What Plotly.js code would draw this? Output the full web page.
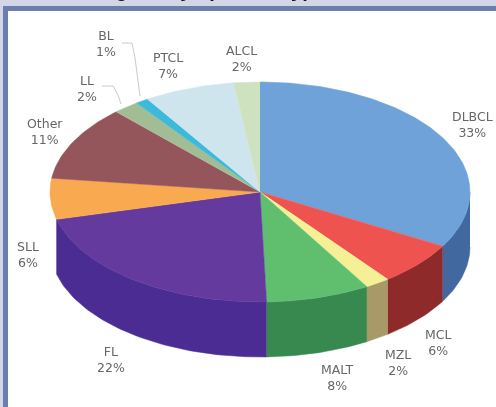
<!DOCTYPE html>
<html><head><meta charset="utf-8">
<script src="https://cdn.plot.ly/plotly-3.0.1.min.js"></script>
<style>html,body{margin:0;padding:0;background:#fff;overflow:hidden}#c{width:496px;height:407px;filter:blur(0.7px)}</style>
</head><body><div id="c"></div>
<script>
const categories=["DLBCL","MCL","MZL","MALT","FL","SLL","Other","LL","BL","PTCL","ALCL"];
const shares=[33.2,6.4,1.9,8,21.5,6,11,2,1,7,2];
const topColors=["#6fa2d8","#ef5350","#f5ef96","#5fbf6f","#653a9e","#f9a94f","#94565a","#a2bd94","#3dbadb","#cfe5ee","#cfe2c0"];
const sideColors=["#41699f","#8e2a2a","#a89a68","#37894f","#4b2c92","#4b2c92","#74403f","#7f9a76","#2a98b8","#a8c4cf","#a8c09a"];
const labelX=[472,438,398,337,111,28,45,87,106,168,241];
const labelY=[124,342,362,377,359,254,131,88,43,65,58];
const titleText="Percentage of Lymphoma Type";

const cx=260,cy=192,rx=210,ry=110,depth=55;
const traces=[];
const pt=(a,dz)=>[cx+rx*Math.sin(a),cy-ry*Math.cos(a)+dz];
function arc(a0,a1,dz){const n=Math.max(2,Math.ceil(Math.abs(a1-a0)/0.02));const out=[];for(let i=0;i<=n;i++){out.push(pt(a0+(a1-a0)*i/n,dz));}return out;}
function poly(points,color){traces.push({type:"scatter",mode:"lines",x:points.map(p=>p[0]),y:points.map(p=>p[1]),fill:"toself",fillcolor:color,line:{color:color,width:0.5},hoverinfo:"skip",showlegend:false});}
let cum=0;const spans=shares.map(v=>{const s=[cum/100*2*Math.PI,(cum+v)/100*2*Math.PI];cum+=v;return s;});
// side wall: visible from the right edge round the front to the end of the FL slice
const wallEnd=spans[4][1];
spans.forEach((s,i)=>{const a0=Math.max(s[0],Math.PI/2),a1=Math.min(s[1],wallEnd);if(a1>a0){poly(arc(a0,a1,0).concat(arc(a1,a0,depth)),sideColors[i]);}});
// top surface
spans.forEach((s,i)=>{poly([[cx,cy]].concat(arc(s[0],s[1],0)),topColors[i]);});
// leader lines for the small slices
traces.push({type:"scatter",mode:"lines",x:[102,113,118,121],y:[86,86,95,104],line:{color:"#c4c4c4",width:0.9},hoverinfo:"skip",showlegend:false});
traces.push({type:"scatter",mode:"lines",x:[122,132,135,140],y:[43,43,58,96],line:{color:"#c4c4c4",width:0.9},hoverinfo:"skip",showlegend:false});
const annotations=categories.map((c,i)=>({x:labelX[i],y:labelY[i],xref:"x",yref:"y",text:c+"<br>"+Math.round(shares[i])+"%",showarrow:false,align:"center",font:{family:"DejaVu Sans",size:12.5,color:"#666"}}));
annotations.push({x:29/496,y:1-3/407,xref:"paper",yref:"paper",xanchor:"left",yanchor:"bottom",text:"<b>"+titleText+"</b>",showarrow:false,font:{family:"Liberation Sans",size:20,color:"#111"}});
const shapes=[
 {type:"rect",xref:"x",yref:"y",x0:0,x1:496,y0:0,y1:407,fillcolor:"#d3d6e6",line:{width:0},layer:"below"},
 {type:"rect",xref:"x",yref:"y",x0:3,x1:496,y0:6,y1:407,fillcolor:"#6a7fae",line:{width:0},layer:"below"},
 {type:"rect",xref:"x",yref:"y",x0:8,x1:496,y0:11,y1:407,fillcolor:"#ffffff",line:{width:0},layer:"below"}
];
Plotly.newPlot("c",traces,{width:496,height:407,margin:{l:0,r:0,t:0,b:0},paper_bgcolor:"#fff",plot_bgcolor:"#fff",
 xaxis:{range:[0,496],visible:false,fixedrange:true},yaxis:{range:[407,0],visible:false,fixedrange:true},annotations,shapes,showlegend:false},{staticPlot:true});
</script></body></html>
